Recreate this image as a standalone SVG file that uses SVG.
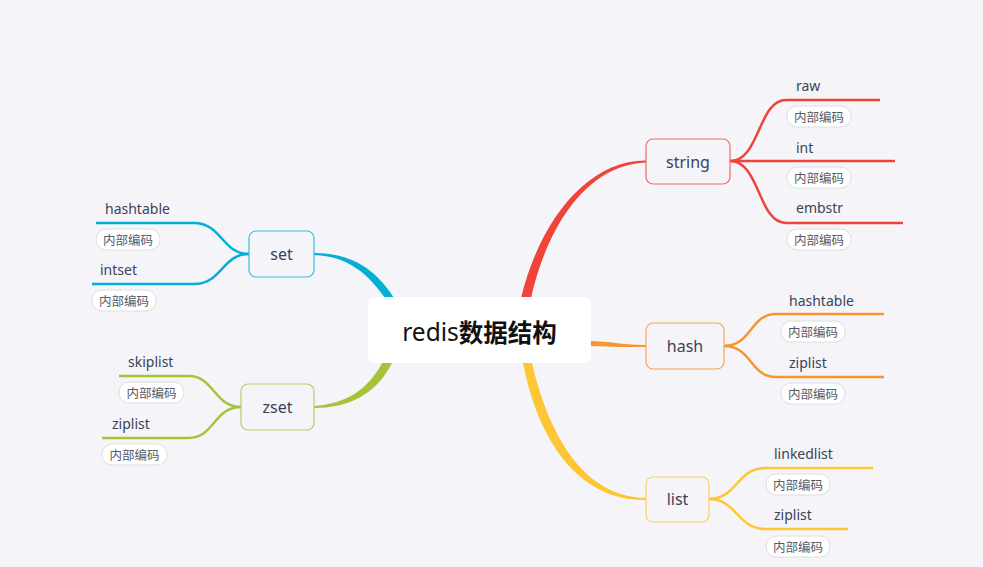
<svg xmlns="http://www.w3.org/2000/svg" width="983" height="567" viewBox="0 0 983 567">
<style>
.bg{fill:#f5f5f9}
.node{fill:#f5f5f9;stroke-width:1.2}
.nt{font-family:"Noto Sans","Liberation Sans",sans-serif;font-size:16px;fill:#3b4356;text-anchor:middle;dominant-baseline:central}
.lt{font-family:"Noto Sans","Liberation Sans",sans-serif;font-size:14px;fill:#3b4356;dominant-baseline:central}
.tag rect{fill:#ffffff;stroke:#dedede;stroke-width:1}
.tag text{font-family:"Noto Sans CJK SC","Noto Sans",sans-serif;font-size:12.5px;fill:#555a66;text-anchor:middle;dominant-baseline:central}
.leaf{fill:none;stroke-width:2.5}
</style>
<rect class="bg" x="0" y="0" width="983" height="567"/>
<g id="connectors">
  <path d="M521 298 C540 220 588 160 646 160.5 L646 162.5 C590 164 548 222 531 298 Z" fill="#f0443a"/>
  <path d="M591 341 C615 342 625 345 646 345 L646 347 C625 347 615 347 591 346 Z" fill="#f7952f"/>
  <path d="M523 363 C538 440 578 501 646 500 L646 498 C582 497 548 432 532 363 Z" fill="#fdc635"/>
  <path d="M314 253 C350 253 375 268 394 298 L385 298 C368 274 348 256 314 255 Z" fill="#04afd4"/>
  <path d="M314 406 C345 404 368 390 382 363 L392 363 C376 395 348 408 314 408 Z" fill="#a5c43a"/>
  <g stroke="#f0443a" class="leaf">
    <path class="leaf" d="M730 161 C760 161 758 100 786 100 L880 100"/>
    <path class="leaf" d="M730 161 L895 161"/>
    <path class="leaf" d="M730 161 C760 161 758 223 786 223 L903 223"/>
  </g>
  <g stroke="#f7952f" class="leaf">
    <path class="leaf" d="M724 346 C752 346 750 314 776 314 L884 314"/>
    <path class="leaf" d="M724 346 C752 346 750 377 776 377 L884 377"/>
  </g>
  <g stroke="#fdc635" class="leaf">
    <path class="leaf" d="M709 499 C737 499 737 468 765 468 L873 468"/>
    <path class="leaf" d="M709 499 C737 499 737 529 765 529 L848 529"/>
  </g>
  <g stroke="#04afd4" class="leaf">
    <path class="leaf" d="M249 254 C222 254 222 223 194 223 L96 223"/>
    <path class="leaf" d="M249 254 C222 254 222 284 194 284 L92 284"/>
  </g>
  <g stroke="#a5c43a" class="leaf">
    <path class="leaf" d="M241 407 C214 407 214 376 189 376 L119 376"/>
    <path class="leaf" d="M241 407 C214 407 214 438 189 438 L102 438"/>
  </g>
</g>
<g id="root">
  <rect x="368" y="297" width="223" height="66" rx="7" fill="#ffffff"/>
  <text x="479.5" y="331" text-anchor="middle" dominant-baseline="central" font-size="24.5" fill="#111111" font-family="Noto Sans,Noto Sans CJK SC,sans-serif">redis<tspan font-weight="bold" font-family="Noto Sans CJK SC,sans-serif">数据结构</tspan></text>
</g>
<g id="string">
  <rect class="node" x="646" y="139" width="84" height="45" rx="7" stroke="#f26a62"/>
  <text class="nt" x="688" y="161.5">string</text>
</g>
<g id="hash">
  <rect class="node" x="646" y="323" width="78" height="46" rx="7" stroke="#f8a54f"/>
  <text class="nt" x="685" y="346">hash</text>
</g>
<g id="list">
  <rect class="node" x="646" y="477" width="63" height="45" rx="7" stroke="#fdd059"/>
  <text class="nt" x="677.5" y="499">list</text>
</g>
<g id="set">
  <rect class="node" x="249" y="231" width="65" height="46" rx="7" stroke="#3dbcdc"/>
  <text class="nt" x="281.5" y="254">set</text>
</g>
<g id="zset">
  <rect class="node" x="241" y="384" width="73" height="46" rx="7" stroke="#b4cf66"/>
  <text class="nt" x="277.5" y="407">zset</text>
</g>
<g id="string-raw">
  <text class="lt" x="796" y="85">raw</text>
  <g class="tag"><rect x="787" y="106" width="64" height="21" rx="10"/><text x="819" y="116.5">内部编码</text></g>
</g>
<g id="string-int">
  <text class="lt" x="796" y="147">int</text>
  <g class="tag"><rect x="787" y="167" width="64" height="21" rx="10"/><text x="819" y="177.5">内部编码</text></g>
</g>
<g id="string-embstr">
  <text class="lt" x="796" y="207">embstr</text>
  <g class="tag"><rect x="787" y="229" width="64" height="21" rx="10"/><text x="819" y="239.5">内部编码</text></g>
</g>
<g id="hash-hashtable">
  <text class="lt" x="789" y="300">hashtable</text>
  <g class="tag"><rect x="781" y="321" width="64" height="21" rx="10"/><text x="813" y="331.5">内部编码</text></g>
</g>
<g id="hash-ziplist">
  <text class="lt" x="789" y="362">ziplist</text>
  <g class="tag"><rect x="781" y="383" width="64" height="21" rx="10"/><text x="813" y="393.5">内部编码</text></g>
</g>
<g id="list-linkedlist">
  <text class="lt" x="774" y="453">linkedlist</text>
  <g class="tag"><rect x="766" y="474" width="64" height="21" rx="10"/><text x="798" y="484.5">内部编码</text></g>
</g>
<g id="list-ziplist">
  <text class="lt" x="774" y="514">ziplist</text>
  <g class="tag"><rect x="766" y="536" width="64" height="21" rx="10"/><text x="798" y="546.5">内部编码</text></g>
</g>
<g id="set-hashtable">
  <text class="lt" x="105" y="208">hashtable</text>
  <g class="tag"><rect x="96" y="229" width="64" height="21" rx="10"/><text x="128" y="239.5">内部编码</text></g>
</g>
<g id="set-intset">
  <text class="lt" x="100" y="269">intset</text>
  <g class="tag"><rect x="92" y="290" width="64" height="21" rx="10"/><text x="124" y="300.5">内部编码</text></g>
</g>
<g id="zset-skiplist">
  <text class="lt" x="128" y="361">skiplist</text>
  <g class="tag"><rect x="119" y="382" width="65" height="21" rx="10"/><text x="151.5" y="392.5">内部编码</text></g>
</g>
<g id="zset-ziplist">
  <text class="lt" x="112" y="423">ziplist</text>
  <g class="tag"><rect x="102" y="444" width="65" height="21" rx="10"/><text x="134.5" y="454.5">内部编码</text></g>
</g>
</svg>
